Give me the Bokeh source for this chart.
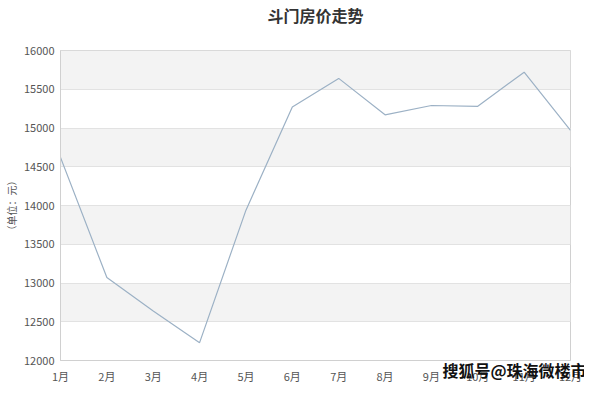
from bokeh.plotting import figure
from bokeh.models import FixedTicker, ColumnDataSource
from bokeh.embed import file_html
from bokeh.resources import INLINE

months = ["1月", "2月", "3月", "4月", "5月", "6月", "7月", "8月", "9月", "10月", "11月", "12月"]
month_idx = list(range(1, 13))
prices = [14620, 13070, 12640, 12230, 13940, 15270, 15640, 15170, 15290, 15280, 15720, 14970]
y_ticks = [12000, 12500, 13000, 13500, 14000, 14500, 15000, 15500, 16000]
title_text = "斗门房价走势"
y_label = "（单位：元）"
watermark = "搜狐号@珠海微楼市"

CJK = "Noto Sans CJK SC"

p = figure(width=584, height=384, output_backend="svg", toolbar_location=None,
           x_range=(month_idx[0], month_idx[-1]), y_range=(y_ticks[0], y_ticks[-1]),
           min_border_left=60, min_border_right=14, min_border_top=50, min_border_bottom=24)
p.background_fill_color = "white"
p.border_fill_color = "white"
p.outline_line_color = "#d0d0d0"

# alternating shaded bands (every other tick interval, starting from the second)
band_lo = y_ticks[1:-1:2]
band_hi = y_ticks[2::2]
band_src = ColumnDataSource(dict(y=[(a + b) / 2 for a, b in zip(band_lo, band_hi)],
                                 h=[b - a for a, b in zip(band_lo, band_hi)]))
p.hbar(y="y", height="h", left=month_idx[0], right=month_idx[-1], source=band_src,
       fill_color="#f3f3f3", line_color=None, level="image")

src = ColumnDataSource(dict(x=month_idx, y=prices))
p.line("x", "y", source=src, line_color="#9cb1c5", line_width=1.2)

p.xaxis.ticker = FixedTicker(ticks=month_idx)
p.xaxis.major_label_overrides = {i: m for i, m in zip(month_idx, months)}
p.yaxis.ticker = FixedTicker(ticks=y_ticks)

for ax in (p.xaxis, p.yaxis):
    ax.axis_line_color = "#d0d0d0"
    ax.major_tick_line_color = None
    ax.minor_tick_line_color = None
    ax.major_tick_out = 0
    ax.major_tick_in = 0
    ax.minor_tick_out = 0
    ax.minor_tick_in = 0
    ax.major_label_text_color = "#555555"
    ax.major_label_text_font_size = "11px"
    ax.major_label_text_font = CJK

p.yaxis.axis_label = y_label
p.yaxis.axis_label_text_font = CJK
p.yaxis.axis_label_text_font_size = "10px"
p.yaxis.axis_label_text_font_style = "normal"
p.yaxis.axis_label_text_color = "#555555"
p.yaxis.axis_label_standoff = 2
p.yaxis.major_label_standoff = 6
p.xaxis.major_label_standoff = 7

# watermark drawn as the x axis label, pulled up beside the tick labels;
# trailing ideographic spaces shift the visible text back inside the figure
xa = p.xaxis[0]
xa.axis_label = watermark + "\u3000" * 7
xa.axis_label_text_font = CJK
xa.axis_label_text_font_size = "16px"
xa.axis_label_text_font_style = "bold"
xa.axis_label_text_color = "#111111"
xa.axis_label_standoff = -29
xa.axis_label_align = "end"

p.xgrid.grid_line_color = None
p.ygrid.grid_line_color = "#e2e2e2"

p.title.text = title_text + "\n"
p.title.align = "center"
p.title.offset = -13
p.title.standoff = 0
p.title.text_font = CJK
p.title.text_font_size = "16px"
p.title.text_line_height = 1.0
p.title.text_color = "#333333"
p.title.text_font_style = "bold"

open("out.html", "w").write(file_html(p, INLINE))
